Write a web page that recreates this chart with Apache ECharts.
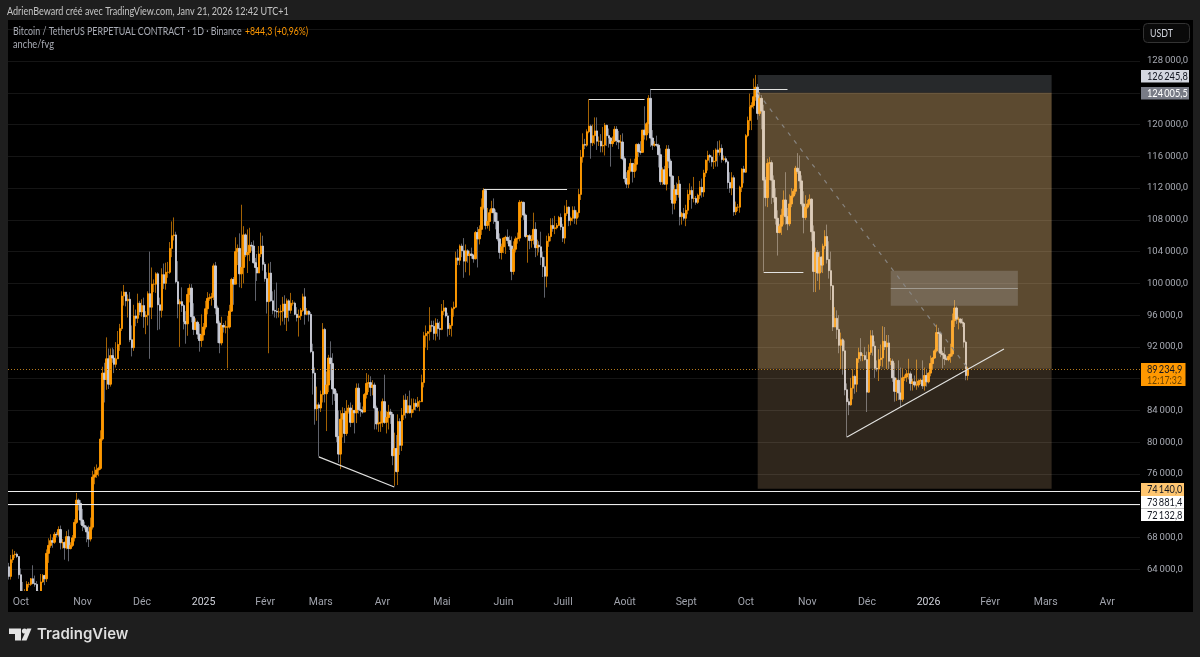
<!DOCTYPE html>
<html><head><meta charset="utf-8">
<style>html,body{margin:0;padding:0;background:#1e1e1e;overflow:hidden}#c{width:1200px;height:657px}</style>
<script src="https://cdn.jsdelivr.net/npm/echarts@6/dist/echarts.min.js"></script>
</head><body><div id="c"></div>
<script>
// Daily candles, first one 2024-09-25, one line per month
const opens = [
64300,63100,65200,65800,65900,65600,
63300,60800,60600,60700,62100,62100,62800,62200,62100,60600,60300,62400,63200,62800,66000,67000,67600,67400,68400,68350,69000,67350,67350,66700,68100,66600,67000,67950,69900,72700,72300,
70200,69500,69300,68700,67800,69300,75600,75900,76500,76700,80400,88700,87900,90500,87300,90900,90600,89800,90500,92300,94300,98400,98900,97800,98000,92900,91900,95900,95600,97500,
96400,97200,95800,96000,98700,97000,99900,99900,101200,97300,96600,101100,100000,101400,101400,104400,106000,106100,100200,97400,97700,97200,95200,94900,98600,99400,95800,94200,95100,93600,92800,
93500,94500,96800,98100,98200,98300,102200,96900,95000,92500,94700,94500,94500,94500,96500,100500,99900,104000,104400,101200,102000,106100,103600,103900,104800,104700,102600,102000,101300,103700,104700,
102400,100600,97700,101300,97800,96600,96500,96400,96400,96500,97400,95700,97800,96600,97500,97500,96100,95700,95900,96600,98300,96100,96500,96100,91400,88700,84200,84700,
84300,86000,94200,86100,87200,90600,89900,86700,86100,80700,78500,82900,83600,81100,83900,84300,82500,84000,83700,86800,84100,84000,83800,86000,87400,87500,86900,87200,84300,82300,82400,
82500,85100,82500,83100,83800,83500,78300,79200,76300,82600,79600,83400,85300,83700,84600,83700,84100,84900,84500,85100,85100,87500,93400,93700,93900,94700,94600,93700,95000,94300,
94200,96500,96900,95900,94300,94700,96800,97000,103200,102900,104700,104100,102800,104100,103500,103700,103500,103100,106400,105600,106800,109600,111700,107300,107800,108900,109400,108900,107800,105600,103900,
104600,105700,105800,105400,104700,101500,104300,105600,105700,110200,110200,108600,105900,106000,105400,105500,106800,104500,104800,104600,103300,102100,100900,105300,105900,107300,106900,107000,107300,108300,
107100,105700,108800,109600,107900,108200,109200,108200,108900,111200,115900,117500,117400,119100,119800,117700,118600,119200,117900,117900,117300,117400,119900,118600,118300,117600,117900,119400,118000,117800,117800,
115700,113200,112500,114200,115100,114100,115000,117500,116600,116500,119300,118700,120100,123300,118300,117400,117500,117400,116200,112800,114300,112500,116900,115400,113500,110100,111800,111200,112500,108400,108800,
108200,109200,111200,111700,110700,110700,110200,111100,112100,111500,113900,115500,116100,115900,115300,115400,116800,116500,117000,115600,115700,115300,112700,112000,113300,109000,109600,109600,112100,114400,
114000,118600,120500,122200,122400,123500,124700,121400,123300,121700,113000,110800,115100,115200,113000,110800,108200,106400,107200,108600,110500,108400,107500,110000,111000,111600,114500,114100,112900,110000,108300,
109600,110000,110600,106500,101500,103900,101300,103300,102300,104700,105900,103000,101600,99700,94500,95600,94200,92200,92900,91500,86600,85100,84700,86800,88300,87300,90500,91300,90900,90900,
90400,86300,91300,93400,92100,89300,89200,90400,90600,92700,92000,92500,90200,90200,88100,86400,87800,86200,85400,88100,88200,88600,88600,87400,87600,87200,87200,87700,87800,87100,88400,
87600,88700,89900,90600,91500,93800,93700,91200,91000,90500,90400,90800,91100,95300,96900,95500,95500,95100,95000,92600,88390.6];
const closes = [
63100,65200,65800,65900,65600,63300,
60800,60600,60700,62100,62100,62800,62200,62100,60600,60300,62400,63200,62800,66000,67000,67600,67400,68400,68350,69000,67350,67350,66700,68100,66600,67000,67950,69900,72700,72300,70200,
69500,69300,68700,67800,69300,75600,75900,76500,76700,80400,88700,87900,90500,87300,90900,90600,89800,90500,92300,94300,98400,98900,97800,98000,92900,91900,95900,95600,97500,96400,
97200,95800,96000,98700,97000,99900,99900,101200,97300,96600,101100,100000,101400,101400,104400,106000,106100,100200,97400,97700,97200,95200,94900,98600,99400,95800,94200,95100,93600,92800,93500,
94500,96800,98100,98200,98300,102200,96900,95000,92500,94700,94500,94500,94500,96500,100500,99900,104000,104400,101200,102000,106100,103600,103900,104800,104700,102600,102000,101300,103700,104700,102400,
100600,97700,101300,97800,96600,96500,96400,96400,96500,97400,95700,97800,96600,97500,97500,96100,95700,95900,96600,98300,96100,96500,96100,91400,88700,84200,84700,84300,
86000,94200,86100,87200,90600,89900,86700,86100,80700,78500,82900,83600,81100,83900,84300,82500,84000,83700,86800,84100,84000,83800,86000,87400,87500,86900,87200,84300,82300,82400,82500,
85100,82500,83100,83800,83500,78300,79200,76300,82600,79600,83400,85300,83700,84600,83700,84100,84900,84500,85100,85100,87500,93400,93700,93900,94700,94600,93700,95000,94300,94200,
96500,96900,95900,94300,94700,96800,97000,103200,102900,104700,104100,102800,104100,103500,103700,103500,103100,106400,105600,106800,109600,111700,107300,107800,108900,109400,108900,107800,105600,103900,104600,
105700,105800,105400,104700,101500,104300,105600,105700,110200,110200,108600,105900,106000,105400,105500,106800,104500,104800,104600,103300,102100,100900,105300,105900,107300,106900,107000,107300,108300,107100,
105700,108800,109600,107900,108200,109200,108200,108900,111200,115900,117500,117400,119100,119800,117700,118600,119200,117900,117900,117300,117400,119900,118600,118300,117600,117900,119400,118000,117800,117800,115700,
113200,112500,114200,115100,114100,115000,117500,116600,116500,119300,118700,120100,123300,118300,117400,117500,117400,116200,112800,114300,112500,116900,115400,113500,110100,111800,111200,112500,108400,108800,108200,
109200,111200,111700,110700,110700,110200,111100,112100,111500,113900,115500,116100,115900,115300,115400,116800,116500,117000,115600,115700,115300,112700,112000,113300,109000,109600,109600,112100,114400,114000,
118600,120500,122200,122400,123500,124700,121400,123300,121700,113000,110800,115100,115200,113000,110800,108200,106400,107200,108600,110500,108400,107500,110000,111000,111600,114500,114100,112900,110000,108300,109600,
110000,110600,106500,101500,103900,101300,103300,102300,104700,105900,103000,101600,99700,94500,95600,94200,92200,92900,91500,86600,85100,84700,86800,88300,87300,90500,91300,90900,90900,90400,
86300,91300,93400,92100,89300,89200,90400,90600,92700,92000,92500,90200,90200,88100,86400,87800,86200,85400,88100,88200,88600,88600,87400,87600,87200,87200,87700,87800,87100,88400,87600,
88700,89900,90600,91500,93800,93700,91200,91000,90500,90400,90800,91100,95300,96900,95500,95500,95100,95000,92600,88390.6,89234.9];
const highs = [
64800,65800,66500,66300,66100,65600,
64100,62400,61500,62500,62400,62900,64500,63200,62500,61300,63400,63400,63300,66500,67900,68400,68000,68700,68700,69400,69500,67800,67500,68800,69000,67400,68300,70300,73600,72900,72700,
71600,70000,69500,69500,70500,76400,76900,77200,76900,81500,89500,90000,93200,91800,91800,91900,91700,92600,94000,94900,99000,99800,98700,98600,98900,94700,97300,96700,98700,97800,
98000,98200,96500,99000,104000,102000,100500,101400,101400,98200,101900,102500,102600,102700,105200,107800,108300,106500,102800,98000,99500,97400,96500,99400,99900,99900,97500,95600,95300,94900,96100,
95000,97800,98900,98700,98800,102500,102700,97200,95300,95800,95000,95300,95900,97300,100700,100800,105800,104900,106300,109900,107200,106300,106800,107000,105200,105400,103200,103700,104700,106400,106000,
102700,101400,102500,102700,99000,99200,100100,96900,97300,98300,98500,98100,98000,98800,97900,97700,97000,96700,96900,98700,99400,96900,96600,96400,92400,89400,87000,85000,
86500,95000,94400,88900,91000,92700,91200,86800,86500,84000,84000,84400,84300,85300,84700,85000,84700,84000,87400,87400,85000,84500,86200,88700,88500,88300,87800,87500,84600,83900,83900,
85500,88500,83900,84700,84200,83800,81200,80900,83500,83000,84300,85900,86100,85800,86500,85500,85500,85400,85700,85300,88500,93900,94700,94000,97000,95300,95300,95600,95500,95200,
97400,97900,97000,96300,95000,97000,97700,104000,104300,104900,105000,105700,104900,104300,104100,104500,103700,106600,107100,107300,110700,112000,111900,109500,109300,110400,110700,109300,108900,106300,105000,
105800,106000,106800,106000,105900,105300,105900,106400,110500,110400,110300,108800,106100,106200,106100,108900,107700,105500,105300,106500,104000,103300,106000,106300,108200,108200,108500,107600,108500,108800,
107500,109800,110500,109700,108400,109700,109700,109200,111900,116800,118900,118200,119400,123200,120000,120000,120900,120900,118500,118800,119700,120200,120000,119500,118400,118500,119800,119800,119200,118700,118900,
116000,114000,114700,115700,115100,115700,117600,117700,117900,119300,122300,120300,123700,124500,119300,117900,118600,117600,117000,114600,114800,117400,117400,115700,113600,112400,112700,113500,113000,109000,109500,
109900,111800,112600,112200,113400,111000,111300,112900,113200,114300,115600,116700,116300,116100,116800,117000,117900,118000,117500,116100,116000,115500,114000,114000,113600,110300,110000,112300,114500,114800,
118800,121000,123900,122800,125800,126245.8,125100,124100,123700,122500,113400,115700,115900,115500,113600,112000,109200,107500,109400,111700,114000,109500,111200,112000,111900,114800,116400,116100,113600,111600,111100,
110500,111200,110700,107300,104500,104200,104000,103400,105000,106700,107400,105300,104000,99800,97000,96600,96000,93800,93100,92800,87400,85500,88100,89200,88500,90600,91900,93100,91200,92000,
91400,92300,94100,94100,92700,90300,91700,92300,94600,94500,93500,93500,90600,90500,90000,88100,90300,89400,89300,88500,89100,90500,88900,88000,88400,90400,87900,88000,90300,89400,89200,
88800,90900,90700,91700,94800,94400,93500,91500,92000,90800,91100,92400,96200,97900,97100,95800,95600,95600,95000,92800,89500];
const lows = [
62700,62700,64800,65400,65400,62800,
60200,60000,59900,60400,61700,61900,62100,61800,60300,58900,60400,62300,62000,62400,64800,66700,66700,67200,68000,68100,66500,66600,65200,66500,65000,66500,66800,67500,69700,71400,69600,
68800,69000,67400,66800,67500,69000,74700,75500,75700,76500,80200,85000,86600,86700,87000,90000,88700,89400,90500,91500,94000,97200,97100,95700,92600,90800,91500,94600,95000,96000,
95800,94400,93600,94700,90500,95500,98900,98800,94100,94200,95700,99300,99200,100700,101200,103300,105400,100000,95600,92000,96400,94200,92400,93400,97600,95100,93500,94100,93000,91400,92000,
92800,94200,96100,97800,97200,97900,96100,92500,91200,92200,93800,93700,89300,94300,96400,97300,99900,102300,99500,99400,100000,103300,101300,102800,104100,102500,97800,100300,101300,103300,101600,
100200,96200,91200,97700,96100,95700,95600,95700,94700,95200,94800,94000,95200,96200,97200,96000,95200,93300,95400,96400,94800,96000,95200,91200,86000,82200,82700,78200,
83800,85000,85000,81400,86300,87800,84700,85200,80000,77400,76600,80600,79900,80800,83600,81900,82400,81100,82400,83600,83200,83600,83800,85500,86300,85800,85900,81600,81600,81300,81300,
81900,82300,81100,81600,82300,77100,74500,76200,74600,78400,78900,82800,83000,83600,83600,83100,83700,84000,84300,83900,85100,86900,91900,91600,92800,93900,92900,92800,93300,92900,
94100,96000,95700,93300,93500,93300,95800,96900,102300,102300,103300,100700,101400,102600,101000,103100,102600,103000,102000,104900,106100,109300,106800,106900,106600,108900,107500,106800,105300,103100,103000,
103800,103700,105000,104200,100400,101100,103900,105000,105300,108300,108000,105700,102600,104300,104500,104900,103300,103500,103900,102300,100800,98200,99500,104600,105300,106500,106200,106800,107200,106700,
105200,105000,108500,107200,107300,107800,107500,107400,108300,110500,115200,116900,117200,118900,115700,117300,117500,116800,117300,116500,116500,116100,117300,117100,114700,117200,117800,117400,116900,115700,115500,
112700,112000,112000,114000,112700,113300,114200,115900,116200,116500,118100,118000,118900,117200,116800,117200,117200,114600,112400,112400,112400,111700,114500,110500,108700,109300,110400,110800,107300,107400,107900,
107200,108700,110500,109400,110200,109900,110000,110600,110800,110900,113400,114200,115200,114700,114400,114700,114700,116100,115200,115400,115100,111900,111400,111100,108500,108600,109100,108900,111500,112600,
113900,118400,119300,119300,122000,123000,120600,121100,119400,101500,109700,109600,113000,110000,110200,107400,103500,106300,106100,107400,107400,106700,107200,109600,110800,111200,113800,111900,109700,106300,108000,
109400,109800,105300,98900,98900,100300,99200,101400,101300,104300,102500,100600,97900,94000,94500,93000,91200,89200,88500,85900,80600,83400,84600,85400,86100,86300,90000,90200,90200,90300,
83800,86200,91000,90900,88100,88900,87700,89600,89500,91600,89200,89200,89700,87600,85100,85200,85300,84400,85100,87700,87600,87900,86500,86500,86900,86600,86900,87300,86700,86500,87000,
87400,88300,89200,90500,91300,91300,90700,89300,89700,90300,90200,90000,90800,94500,94900,94200,94900,94500,91900,87800,87800];

// Time axis: one slot per day, running on past the last candle
const startDay = '2024-09-25';
const slotCount = 570;
const monthTicks = {'2024-10-01':'Oct','2024-11-01':'Nov','2024-12-01':'Déc','2025-01-01':'2025','2025-02-01':'Févr','2025-03-01':'Mars','2025-04-01':'Avr','2025-05-01':'Mai','2025-06-01':'Juin','2025-07-01':'Juill','2025-08-01':'Août','2025-09-01':'Sept','2025-10-01':'Oct','2025-11-01':'Nov','2025-12-01':'Déc','2026-01-01':'2026','2026-02-01':'Févr','2026-03-01':'Mars','2026-04-01':'Avr'};
const hiddenPriceTicks = [132000,88000,72000,60000];

// Chart drawings, priced levels
const hLevels = [73881.4,72132.8];
const lastPrice = 89234.9;
const boxHigh = 126245.8, boxEntry = 124005.5, boxStop = 74140;
const fvgTop = 101590, fvgMid = 99370, fvgBottom = 97180;
const fvgFrom = '2025-12-13', fvgTo = '2026-02-15';
const boxFrom = '2025-10-07', boxTo = '2026-03-04';

const categories = [];
{ const t0 = Date.parse(startDay+'T00:00:00Z');
  for (let i=0;i<slotCount;i++) categories.push(new Date(t0+i*864e5).toISOString().slice(0,10)); }

// [fromDay, fromPrice, toDay, toPrice]
const segments = [
 ['2025-02-28',78150,'2025-04-07',74350],
 ['2025-05-22',111900,'2025-07-03',111900],
 ['2025-07-14',123180,'2025-08-11',123180],
 ['2025-08-14',124450,'2025-10-22',124450],
 ['2025-10-10',101460,'2025-10-30',101460],
 ['2025-11-21',80650,'2026-02-08',91730]
];

const candleRows = closes.map((c,i)=>[opens[i],c,lows[i],highs[i]]);
const bodyRows = closes.map((c,i)=>[opens[i],c,Math.min(opens[i],c),Math.max(opens[i],c)]);
const fmtPrice = v => String(Math.trunc(v)).replace(/\B(?=(\d{3})+$)/g,'\u2009')+',0';

const FONT = 'Lato, sans-serif';
const tag = (x,y,w,h,fill) => ({type:'rect',z:20,shape:{x,y,width:w,height:h},style:{fill}});
// Narrowed real text: the reference's label font is a tight humanist face
const txt = (x,y,text,fill,sx) => ({type:'text',z:21,x,y,scaleX:sx,style:{text,fill,font:`11px ${FONT}`,verticalAlign:'middle'}});

const chart = echarts.init(document.getElementById('c'));
chart.setOption({
 animation:false,
 backgroundColor:'#1e1e1e',
 textStyle:{fontFamily:FONT},
 grid:{left:8,right:60,top:29.25,bottom:56},
 xAxis:{type:'category',data:categories,boundaryGap:true,z:10,
  axisLine:{show:false},axisTick:{show:false},splitLine:{show:false},
  axisLabel:{interval:(i,v)=>v in monthTicks,formatter:v=>{const s=monthTicks[v]||'';return /^\d+$/.test(s)?`{y|${s}}`:s;},
    color:'#a0a3ac',fontFamily:'Roboto',fontSize:10.5,margin:-4,hideOverlap:false,rich:{y:{color:'#d0d2da',fontFamily:'Roboto',fontSize:10.5}}}},
 yAxis:{type:'value',position:'right',min:60000,max:132000,interval:4000,
  axisLine:{show:false},axisTick:{show:false},
  splitLine:{lineStyle:{color:'#151515',width:1}},
  axisLabel:{margin:7,align:'left',color:'#a8abb4',fontFamily:'Roboto',fontSize:9.5,formatter:v=>hiddenPriceTicks.includes(v)?'':fmtPrice(v)}},
 graphic:{elements:[
  {type:'rect',z:-10,silent:true,shape:{x:8,y:20,width:1185,height:592},style:{fill:'#000'}},
  {type:'rect',z:5,silent:true,shape:{x:8,y:591,width:1132,height:21},style:{fill:'#000'}},
  txt(7,11,'AdrienBeward créé avec TradingView.com, Janv 21, 2026 12:42 UTC+1','#c4c4c4',0.82),
  txt(13,31,'Bitcoin / TetherUS PERPETUAL CONTRACT · 1D · Binance','#a8abb4',0.805),
  txt(245,31,'+844,3 (+0,96%)','#ff9800',0.79),
  txt(13,44,'anche/fvg','#a8abb4',0.84),
  {type:'rect',z:20,shape:{x:1143.5,y:23.5,width:46,height:19,r:4},style:{fill:'#0a0a0a',stroke:'#333',lineWidth:1}},
  txt(1150,33,'USDT','#d1d4dc',0.8),
  tag(1141,70,48,12.5,'#d4d7e0'), txt(1147,76.5,'126\u2009245,8','#131722',0.84),
  tag(1141,87,48,12.5,'#787b86'), txt(1147,93.5,'124\u2009005,5','#ffffff',0.84),
  tag(1141,363,44.5,23,'#ff9800'), txt(1147,369,'89\u2009234,9','#131722',0.84), txt(1147,380,'12:17:32','#6b4300',0.8),
  tag(1141,483,43,13,'#ffc670'), txt(1147,489.5,'74\u2009140,0','#131722',0.84),
  tag(1141,496,43,12.5,'#ffffff'), txt(1147,502.5,'73\u2009881,4','#131722',0.84),
  tag(1141,508.5,43,12.5,'#ffffff'), txt(1147,515,'72\u2009132,8','#131722',0.84),
  {type:'polygon',z:20,shape:{points:[[9,628.5],[21,628.5],[21,640.5],[15,640.5],[15,634],[9,634]]},style:{fill:'#e4e4e4'}},
  {type:'circle',z:20,shape:{cx:24.5,cy:631,r:2.6},style:{fill:'#e4e4e4'}},
  {type:'polygon',z:20,shape:{points:[[27,628.5],[31.5,628.5],[26.5,640.5],[21.5,640.5]]},style:{fill:'#e4e4e4'}},
  {type:'text',z:21,x:37,y:634.5,style:{text:'TradingView',fill:'#dedede',font:'600 15px Inter, sans-serif',verticalAlign:'middle'}}
 ]},
 series:[
  {name:'wicks',type:'candlestick',z:2,barWidth:1,silent:true,data:candleRows,
   itemStyle:{color:'#a36204',color0:'#5f626b',borderColor:'#a36204',borderColor0:'#5f626b',borderWidth:1}},
  {name:'bodies',type:'candlestick',z:3,barWidth:2,silent:true,data:bodyRows,
   itemStyle:{color:'#ff9800',color0:'#c9ccd6',borderColor:'#ff9800',borderColor0:'#c9ccd6',borderWidth:0.9}},
  {name:'drawings',type:'line',z:6,data:[],silent:true,
   markArea:{silent:true,z:4,data:[
     [{coord:[boxFrom,boxHigh],itemStyle:{color:'rgba(195,203,215,0.2)'}},{coord:[boxTo,boxEntry]}],
     [{coord:[boxFrom,boxEntry],itemStyle:{color:'rgba(255,205,133,0.36)'}},{coord:[boxTo,lastPrice]}],
     [{coord:[boxFrom,lastPrice],itemStyle:{color:'rgba(255,205,150,0.185)'}},{coord:[boxTo,boxStop]}],
     [{coord:[fvgFrom,fvgTop],itemStyle:{color:'rgba(210,210,215,0.22)'}},{coord:[fvgTo,fvgBottom]}]
   ]},
   markLine:{silent:true,z:6,symbol:'none',label:{show:false},data:[
     ...hLevels.map(v=>({yAxis:v,lineStyle:{color:'#ececec',width:1.1,type:'solid'}})),
     {yAxis:lastPrice,lineStyle:{color:'#b5791c',width:1,type:[1,2]}},
     ...segments.map(s=>[{coord:[s[0],s[1]],lineStyle:{color:'#e2e2e0',width:1.1,type:'solid'}},{coord:[s[2],s[3]]}]),
     [{coord:[fvgFrom,fvgMid],lineStyle:{color:'#a09a90',width:1,type:'solid'}},{coord:[fvgTo,fvgMid]}],
     [{coord:[boxFrom,boxEntry],lineStyle:{color:'#878480',width:1.2,type:[4,6]}},{coord:['2026-01-21',lastPrice]}]
   ]}}
 ]
});
</script></body></html>
